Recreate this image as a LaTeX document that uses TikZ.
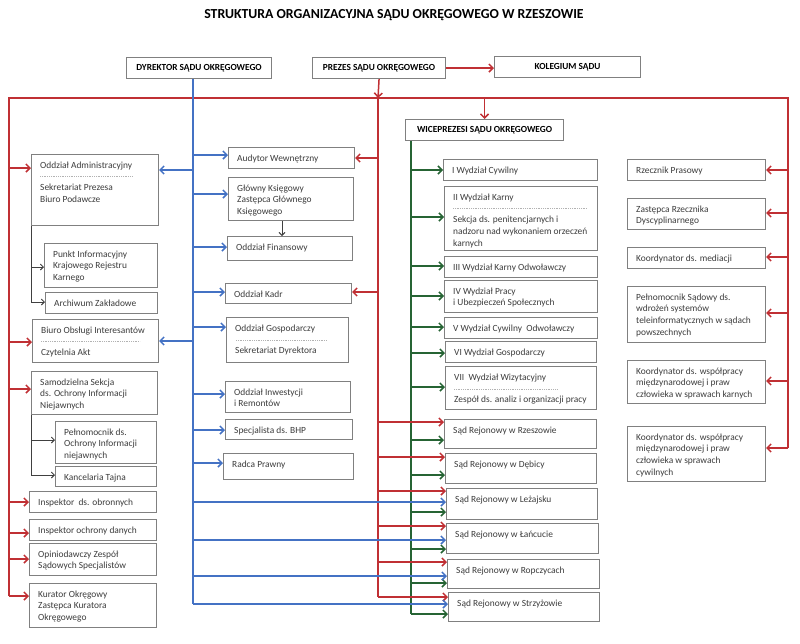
\documentclass[tikz,border=0pt]{standalone}
\usepackage{fontspec}
\setmainfont{Carlito}
\usetikzlibrary{arrows.meta}
\definecolor{linered}{RGB}{192,48,52}
\definecolor{lineblue}{RGB}{68,114,196}
\definecolor{linegreen}{RGB}{38,100,52}
\definecolor{boxgray}{RGB}{128,128,128}
\definecolor{txtgray}{RGB}{60,60,60}

\begin{document}
\begin{tikzpicture}[x=1pt,y=-1pt,
        unit/.style={draw=boxgray,line width=1.1pt,anchor=north west,inner sep=0pt,fill=white},
        utext/.style={anchor=north west,inner xsep=9pt,inner ysep=7.5pt,align=left,text=txtgray,font=\fontsize{9.4}{11.7}\selectfont},
        head/.style={draw=boxgray,line width=1.1pt,anchor=north west,inner sep=0pt,font=\fontsize{9.3}{10}\selectfont\bfseries},
        sep/.style={draw=black!30,line width=0.4pt,dash pattern=on 1pt off 0.8pt},
        rline/.style={draw=linered,line width=1.5pt},
        bline/.style={draw=lineblue,line width=1.5pt},
        gline/.style={draw=linegreen,line width=1.5pt},
        kline/.style={draw=black!75,line width=0.9pt},
        rarr/.style={rline,-{Straight Barb[length=4pt,width=8pt]}},
        barr/.style={bline,-{Straight Barb[length=4pt,width=8pt]}},
        garr/.style={gline,-{Straight Barb[length=4pt,width=8pt]}},
        karr/.style={kline,-{Straight Barb[length=3pt,width=6pt]}}
    ]
        \useasboundingbox (0,0) rectangle (800,643);

        % Title and top row
        \node[font=\fontsize{13.8}{16}\selectfont\bfseries] (title) at (394,15) {STRUKTURA ORGANIZACYJNA SĄDU OKRĘGOWEGO W RZESZOWIE};
        \node[head,minimum width=145pt,minimum height=21pt] (dyr) at (126,57) {DYREKTOR SĄDU OKRĘGOWEGO};
        \node[head,minimum width=133pt,minimum height=21pt] (prez) at (312,57) {PREZES SĄDU OKRĘGOWEGO};
        \node[head,minimum width=146pt,minimum height=21pt] (kol) at (494,56) {KOLEGIUM SĄDU};
        \node[head,minimum width=158pt,minimum height=21pt] (wice) at (405,119) {WICEPREZESI SĄDU OKRĘGOWEGO};

        % Bus points
        \coordinate (busL) at (9,98);
        \coordinate (busM) at (378,98);
        \coordinate (busR) at (788,98);
        \coordinate (busB) at (193,78);
        \coordinate (busG) at (411,140);

        % Left column
        \node[unit,minimum width=127pt,minimum height=71pt,label={[utext]north west:{Oddział Administracyjny\\[11pt]Sekretariat Prezesa\\Biuro Podawcze}}] (adm) at (31,154) {};
        \node[unit,minimum width=113pt,minimum height=44pt,label={[utext]north west:{Punkt Informacyjny\\Krajowego Rejestru\\Karnego}}] (punkt) at (44,243) {};
        \node[unit,minimum width=112pt,minimum height=21pt,label={[utext]north west:{Archiwum Zakładowe}}] (arch) at (45,292) {};
        \node[unit,minimum width=126pt,minimum height=43pt,label={[utext]north west:{Biuro Obsługi Interesantów\\[11pt]Czytelnia Akt}}] (boi) at (32,319) {};
        \node[unit,minimum width=126pt,minimum height=43pt,label={[utext]north west:{Samodzielna Sekcja\\ds. Ochrony Informacji\\Niejawnych}}] (sam) at (31,371) {};
        \node[unit,minimum width=101pt,minimum height=42pt,label={[utext]north west:{Pełnomocnik ds.\\Ochrony Informacji\\niejawnych}}] (pel) at (55,421) {};
        \node[unit,minimum width=101pt,minimum height=20pt,label={[utext]north west:{Kancelaria Tajna}}] (kanc) at (55,466) {};
        \node[unit,minimum width=127pt,minimum height=21pt,label={[utext]north west:{Inspektor\ \ ds. obronnych}}] (iobr) at (29,491) {};
        \node[unit,minimum width=127pt,minimum height=21pt,label={[utext]north west:{Inspektor ochrony danych}}] (iochr) at (29,519) {};
        \node[unit,minimum width=127pt,minimum height=32pt,label={[utext]north west:{Opiniodawczy Zespół\\Sądowych Specjalistów}}] (opin) at (29,543) {};
        \node[unit,minimum width=127pt,minimum height=44pt,label={[utext]north west:{Kurator Okręgowy\\Zastępca Kuratora\\Okręgowego}}] (kur) at (29,583) {};

        % Director's column
        \node[unit,minimum width=126pt,minimum height=21pt,label={[utext]north west:{Audytor Wewnętrzny}}] (aud) at (228,147) {};
        \node[unit,minimum width=125pt,minimum height=43pt,label={[utext]north west:{Główny Księgowy\\Zastępca Głównego\\Księgowego}}] (gks) at (228,177) {};
        \node[unit,minimum width=125pt,minimum height=24pt,label={[utext]north west:{Oddział Finansowy}}] (fin) at (227,236) {};
        \node[unit,minimum width=126pt,minimum height=20pt,label={[utext]north west:{Oddział Kadr}}] (kadr) at (225,283) {};
        \node[unit,minimum width=122pt,minimum height=45pt,label={[utext]north west:{Oddział Gospodarczy\\[11pt]Sekretariat Dyrektora}}] (gosp) at (226,317) {};
        \node[unit,minimum width=125pt,minimum height=31pt,label={[utext]north west:{Oddział Inwestycji\\i Remontów}}] (inw) at (225,381) {};
        \node[unit,minimum width=127pt,minimum height=20pt,label={[utext]north west:{Specjalista ds. BHP}}] (bhp) at (225,419) {};
        \node[unit,minimum width=130pt,minimum height=26pt,label={[utext]north west:{Radca Prawny}}] (radca) at (223,453) {};

        % Divisions and district courts
        \node[unit,minimum width=154pt,minimum height=21pt,label={[utext]north west:{I Wydział Cywilny}}] (wc1) at (443,159) {};
        \node[unit,minimum width=153pt,minimum height=64pt,label={[utext]north west:{II Wydział Karny\\[11pt]Sekcja ds. penitencjarnych i\\nadzoru nad wykonaniem orzeczeń\\karnych}}] (wk2) at (444,186) {};
        \node[unit,minimum width=153pt,minimum height=21pt,label={[utext]north west:{III Wydział Karny Odwoławczy}}] (wk3) at (444,256) {};
        \node[unit,minimum width=153pt,minimum height=32pt,label={[utext]north west:{IV Wydział Pracy\\i Ubezpieczeń Społecznych}}] (wp4) at (444,280) {};
        \node[unit,minimum width=153pt,minimum height=21pt,label={[utext]north west:{V Wydział Cywilny\ \ Odwoławczy}}] (wc5) at (444,317) {};
        \node[unit,minimum width=151pt,minimum height=21pt,label={[utext]north west:{VI Wydział Gospodarczy}}] (wg6) at (445,341) {};
        \node[unit,minimum width=151pt,minimum height=43pt,label={[utext]north west:{VII\ \ Wydział Wizytacyjny\\[11pt]Zespół ds. analiz i organizacji pracy}}] (ww7) at (445,366) {};
        \node[unit,minimum width=152pt,minimum height=29pt,label={[utext]north west:{Sąd Rejonowy w Rzeszowie}}] (srrze) at (444,419) {};
        \node[unit,minimum width=151pt,minimum height=30pt,label={[utext]north west:{Sąd Rejonowy w Dębicy}}] (srdeb) at (445,453) {};
        \node[unit,minimum width=151pt,minimum height=31pt,label={[utext]north west:{Sąd Rejonowy w Leżajsku}}] (srlez) at (446,488) {};
        \node[unit,minimum width=152pt,minimum height=30pt,label={[utext]north west:{Sąd Rejonowy w Łańcucie}}] (srlan) at (446,523) {};
        \node[unit,minimum width=152pt,minimum height=29pt,label={[utext]north west:{Sąd Rejonowy w Ropczycach}}] (srrop) at (447,559) {};
        \node[unit,minimum width=151pt,minimum height=29pt,label={[utext]north west:{Sąd Rejonowy w Strzyżowie}}] (srstr) at (448,592) {};

        % Right column
        \node[unit,minimum width=138pt,minimum height=21pt,label={[utext]north west:{Rzecznik Prasowy}}] (rzp) at (627,159) {};
        \node[unit,minimum width=138pt,minimum height=31pt,label={[utext]north west:{Zastępca Rzecznika\\Dyscyplinarnego}}] (zrd) at (627,198) {};
        \node[unit,minimum width=138pt,minimum height=21pt,label={[utext]north west:{Koordynator ds. mediacji}}] (kmed) at (627,247) {};
        \node[unit,minimum width=138pt,minimum height=56pt,label={[utext]north west:{Pełnomocnik Sądowy ds.\\wdrożeń systemów\\teleinformatycznych w sądach\\powszechnych}}] (psd) at (627,286) {};
        \node[unit,minimum width=138pt,minimum height=43pt,label={[utext]north west:{Koordynator ds. współpracy\\międzynarodowej i praw\\człowieka w sprawach karnych}}] (kwk) at (627,360) {};
        \node[unit,minimum width=138pt,minimum height=55pt,label={[utext]north west:{Koordynator ds. współpracy\\międzynarodowej i praw\\człowieka w sprawach\\cywilnych}}] (kwc) at (627,426) {};

        % Dotted separators inside boxes
        \draw[sep] ([xshift=9pt,yshift=-22pt]adm.north west) -- ++(93,0);
        \draw[sep] ([xshift=9pt,yshift=-22pt]boi.north west) -- ++(99,0);
        \draw[sep] ([xshift=10pt,yshift=-23pt]gosp.north west) -- ++(91,0);
        \draw[sep] ([xshift=9pt,yshift=-22pt]wk2.north west) -- ++(134,0);
        \draw[sep] ([xshift=9pt,yshift=-23pt]ww7.north west) -- ++(103,0);

        % Green lines (vice-presidents)
        \draw[gline] (wice.south -| busG) -- (busG |- 0,614);
        \foreach \n/\y in {wc1/170,wk2/217,wk3/266,wp4/296,wc5/327,wg6/353,ww7/387,srrze/440,srdeb/475,srlez/512,srlan/549,srrop/583,srstr/614}
            \draw[garr] (busG |- 0,\y) -- (\n.west |- 0,\y);

        % Red lines (president)
        \draw[rarr] (prez.east) -- (kol.west |- prez.east);
        \draw[rarr] (prez.south) -- (busM);
        \draw[rline] (busL |- 0,596) -- (busL) -- (busR) -- (busR |- 0,448);
        \draw[rline] (busM) -- (busM |- 0,597);
        \draw[rarr] (wice.north |- busM) -- (wice.north);
        \foreach \n/\y in {adm/168,boi/342,sam/389,iobr/502,iochr/533,opin/559,kur/596}
            \draw[rarr] (busL |- 0,\y) -- (\n.west |- 0,\y);
        \foreach \n/\y in {aud/158,kadr/292}
            \draw[rarr] (busM |- 0,\y) -- (\n.east |- 0,\y);
        \foreach \n/\y in {srrze/422,srdeb/457,srlez/491,srlan/526,srrop/562,srstr/597}
            \draw[rarr] (busM |- 0,\y) -- (\n.west |- 0,\y);
        \foreach \n/\y in {rzp/170,zrd/213,kmed/257,psd/313,kwk/381,kwc/448}
            \draw[rarr] (busR |- 0,\y) -- (\n.east |- 0,\y);

        % Blue lines (director)
        \draw[bline] (dyr.south -| busB) -- (busB |- 0,604);
        \foreach \n/\y in {aud/155,gks/194,fin/247,kadr/292,gosp/327,inw/394,bhp/430,radca/463,srlez/502,srlan/540,srrop/576,srstr/604}
            \draw[barr] (busB |- 0,\y) -- (\n.west |- 0,\y);
        \foreach \n/\y in {adm/170,boi/341}
            \draw[barr] (busB |- 0,\y) -- (\n.east |- 0,\y);

        % Black lines (subordinate units)
        \draw[karr] (282,0 |- gks.south) -- (282,0 |- fin.north);
        \draw[kline] (adm.south west) -- (adm.south west |- 0,302);
        \foreach \n/\y in {punkt/267,arch/302}
            \draw[karr] (adm.south west |- 0,\y) -- (\n.west |- 0,\y);
        \draw[kline] (sam.south west) -- (sam.south west |- 0,475);
        \foreach \n/\y in {pel/440,kanc/475}
            \draw[karr] (sam.south west |- 0,\y) -- (\n.west |- 0,\y);
    \end{tikzpicture}
\end{document}
